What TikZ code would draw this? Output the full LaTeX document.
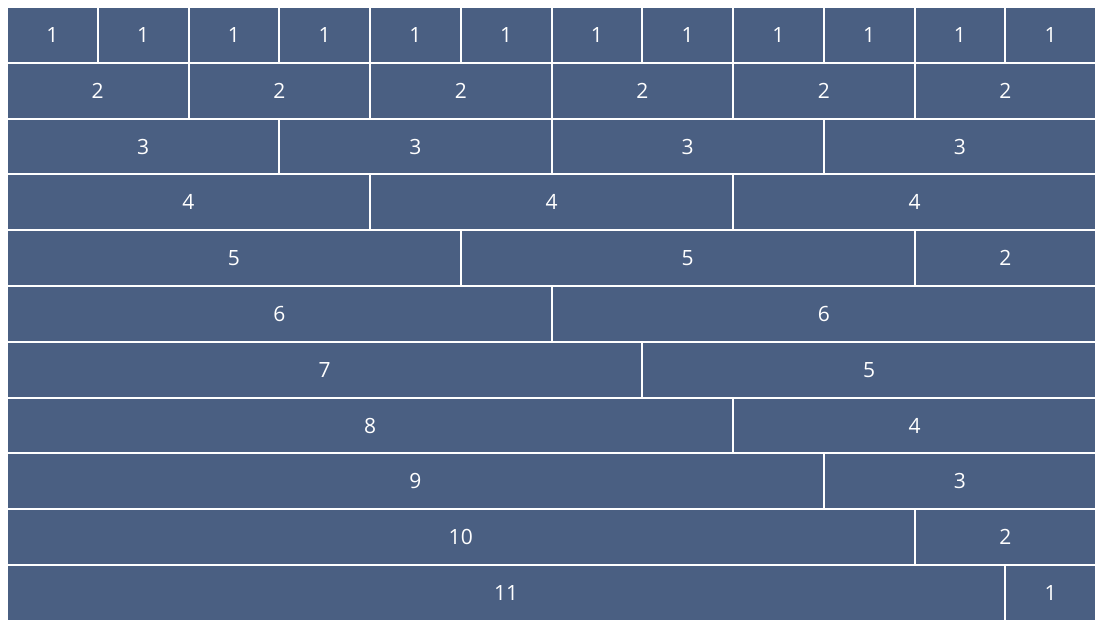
\documentclass[tikz,border=0pt]{standalone}
\usepackage{fontspec}
\setmainfont{Open Sans}
\usepackage{tikz}
\definecolor{barblue}{HTML}{4A5F82}

\begin{document}
\begin{tikzpicture}[x=1pt,y=1pt,
    cell/.style={fill=barblue, text=white, inner sep=0pt,
      minimum height=\RowH-2pt, font=\fontsize{21}{21}\selectfont}]

  \newcommand\UnitW{90.75}
  \newcommand\RowH{55.8}

  \useasboundingbox (0,0) rectangle (1102,-630);
  \fill[white] (0,0) rectangle (1102,-630);

  % one row per line: row number / widths
  \foreach \r/\parts in {1/{1,1,1,1,1,1,1,1,1,1,1,1},
                         2/{2,2,2,2,2,2},
                         3/{3,3,3,3},
                         4/{4,4,4},
                         5/{5,5,2},
                         6/{6,6},
                         7/{7,5},
                         8/{8,4},
                         9/{9,3},
                         10/{10,2},
                         11/{11,1}}{
    \foreach \w [count=\c, remember=\xe as \xs (initially 0),
                 evaluate=\xe using \xs+\w] in \parts {
      \node[cell, minimum width=\w*\UnitW-2pt]
        (c-\r-\c) at ({7+(\xs+\w/2)*\UnitW}, {-7-(\r-0.5)*\RowH}) {\w};
    }
  }
\end{tikzpicture}
\end{document}
